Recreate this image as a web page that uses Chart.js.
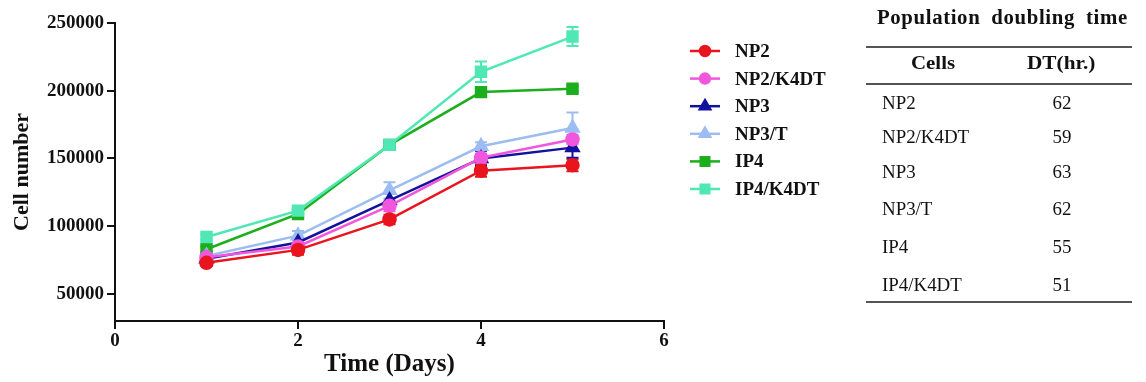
<!DOCTYPE html>
<html>
<head>
<meta charset="utf-8">
<script src="https://cdn.jsdelivr.net/npm/chart.js@4.4.1/dist/chart.umd.min.js"></script>
<style>
  html, body { margin: 0; padding: 0; background: #fff; }
  #wrap { position: relative; width: 1146px; height: 382px; overflow: hidden; }
  canvas { position: absolute; left: 0; top: 0; }
  .t { position: absolute; font-family: 'Liberation Serif', 'Times New Roman', serif; color: #111; white-space: nowrap; transform-origin: left center; }
  .rule { position: absolute; left: 866px; width: 266px; height: 1.5px; background: #555; }
</style>
</head>
<body>
<div id="wrap">
  <canvas id="c" width="1146" height="382"></canvas>
  <div id="table"></div>
</div>
<script>
// ---- data ----
const days = [1, 2, 3, 4, 5];
const seriesNames = ['NP2', 'NP2/K4DT', 'NP3', 'NP3/T', 'IP4', 'IP4/K4DT'];
const np2      = [73000, 82500, 105000, 141000, 145000];
const np2k4dt  = [77000, 85000, 115000, 150500, 164000];
const np3      = [76000, 88000, 119000, 150000, 158000];
const np3t     = [78000, 93000, 126500, 159000, 172500];
const ip4      = [83000, 109000, 160000, 199000, 201500];
const ip4k4dt  = [92000, 111500, 160000, 214000, 240000];
const errNp2     = [2000, 3500, 3500, 4500, 4500];
const errNp2k4dt = [2000, 2500, 4000, 3000, 3500];
const errNp3     = [2000, 3000, 5000, 5500, 7500];
const errNp3t    = [2000, 3500, 6000, 3000, 11500];
const errIp4     = [2000, 2000, 2000, 2500, 2000];
const errIp4k4dt = [2000, 2000, 2000, 7500, 7000];
const yTicks = [50000, 100000, 150000, 200000, 250000];
const xTicks = [0, 2, 4, 6];
const tableTitle = 'Population doubling time';
const tableHead = ['Cells', 'DT(hr.)'];
const tableCells = ['NP2', 'NP2/K4DT', 'NP3', 'NP3/T', 'IP4', 'IP4/K4DT'];
const tableDT = [62, 59, 63, 62, 55, 51];

const values = [np2, np2k4dt, np3, np3t, ip4, ip4k4dt];
const errors = [errNp2, errNp2k4dt, errNp3, errNp3t, errIp4, errIp4k4dt];
const colors = ['#e8141e', '#f057dc', '#12129e', '#9dbdf2', '#1cae1c', '#4fe8b4'];
const styles = ['circle', 'circle', 'triangle', 'triangle', 'rect', 'rect'];
const radii  = [6, 6, 7, 7, 7, 7];
const orders = [1, 2, 3, 4, 6, 5];

const FONT = "'Liberation Serif', 'Times New Roman', serif";

const datasets = seriesNames.map((name, i) => ({
  label: name,
  data: days.map((d, j) => ({ x: d, y: values[i][j] })),
  errors: errors[i],
  borderColor: colors[i],
  backgroundColor: colors[i],
  pointBackgroundColor: colors[i],
  pointBorderColor: colors[i],
  pointStyle: styles[i],
  pointRadius: radii[i],
  borderWidth: 2.5,
  tension: 0,
  order: orders[i]
}));

const errorBars = {
  id: 'errorBars',
  beforeDatasetsDraw(chart) {
    const ctx = chart.ctx;
    const ys = chart.scales.y, xs = chart.scales.x;
    chart.data.datasets.forEach((ds) => {
      ctx.save();
      ctx.strokeStyle = ds.borderColor;
      ctx.lineWidth = 2;
      ds.data.forEach((p, j) => {
        const e = ds.errors[j];
        const x = xs.getPixelForValue(p.x);
        const y1 = ys.getPixelForValue(p.y + e);
        const y2 = ys.getPixelForValue(p.y - e);
        ctx.beginPath();
        ctx.moveTo(x, y1); ctx.lineTo(x, y2);
        ctx.moveTo(x - 6, y1); ctx.lineTo(x + 6, y1);
        ctx.moveTo(x - 6, y2); ctx.lineTo(x + 6, y2);
        ctx.stroke();
      });
      ctx.restore();
    });
  }
};

const customLegend = {
  id: 'customLegend',
  afterDraw(chart) {
    const ctx = chart.ctx;
    chart.data.datasets.forEach((ds, i) => {
      const y = 51 + i * 27.6;
      ctx.save();
      ctx.strokeStyle = ds.borderColor;
      ctx.lineWidth = 2.5;
      ctx.beginPath();
      ctx.moveTo(690, y); ctx.lineTo(720, y);
      ctx.stroke();
      ctx.fillStyle = ds.borderColor;
      ctx.strokeStyle = ds.borderColor;
      Chart.helpers.drawPoint(ctx, {
        pointStyle: ds.pointStyle, radius: ds.pointRadius - 1, borderWidth: 1
      }, 705, y);
      ctx.fillStyle = '#111';
      ctx.font = "bold 19px " + FONT;
      ctx.textBaseline = 'middle';
      ctx.textAlign = 'left';
      ctx.fillText(ds.label, 735, y + 1);
      ctx.restore();
    });
  }
};

const bg = {
  id: 'bg',
  beforeDraw(chart) {
    const ctx = chart.ctx;
    ctx.save();
    ctx.fillStyle = '#fff';
    ctx.fillRect(0, 0, chart.width, chart.height);
    ctx.restore();
  }
};

new Chart(document.getElementById('c'), {
  type: 'line',
  data: { datasets },
  plugins: [bg, errorBars, customLegend],
  options: {
    responsive: false,
    animation: false,
    events: [],
    layout: { padding: { left: 0, right: 482, top: 23, bottom: 0 } },
    plugins: { legend: { display: false }, tooltip: { enabled: false } },
    scales: {
      x: {
        type: 'linear', min: 0, max: 6,
        afterBuildTicks: (s) => { s.ticks = xTicks.map(v => ({ value: v })); },
        afterFit: (s) => { s.height = 61; },
        grid: { display: true, drawOnChartArea: false, drawTicks: true, tickLength: 8, color: '#111', lineWidth: 2 },
        border: { display: true, color: '#111', width: 2 },
        ticks: { color: '#111', font: { family: FONT, size: 19, weight: 'bold' }, padding: 1 },
        title: { display: true, text: 'Time (Days)', color: '#111', font: { family: FONT, size: 25, weight: 'bold' }, padding: { top: 0, bottom: 2 } }
      },
      y: {
        type: 'linear', min: 30000, max: 250000,
        afterBuildTicks: (s) => { s.ticks = yTicks.map(v => ({ value: v })); },
        afterFit: (s) => { s.width = 115; },
        grid: { display: true, drawOnChartArea: false, drawTicks: true, tickLength: 8, color: '#111', lineWidth: 2 },
        border: { display: true, color: '#111', width: 2 },
        ticks: { color: '#111', font: { family: FONT, size: 19, weight: 'bold' }, padding: 3, callback: (v) => String(v) },
        title: { display: true, text: 'Cell number', color: '#111', font: { family: FONT, size: 22, weight: 'bold' }, padding: { top: 9, bottom: 0 } }
      }
    }
  }
});

// ---- table ----
(function buildTable() {
  const t = document.getElementById('table');
  const add = (html) => t.insertAdjacentHTML('beforeend', html);
  add(`<div class="t" style="left:877px;top:6px;font-size:20px;font-weight:bold;letter-spacing:0.6px;word-spacing:5px;transform:scaleX(1.04);">${tableTitle}</div>`);
  add(`<div class="rule" style="top:46px;"></div>`);
  add(`<div class="t" style="left:911px;top:52px;font-size:19px;font-weight:bold;transform:scaleX(1.1);">${tableHead[0]}</div>`);
  add(`<div class="t" style="left:1027px;top:52px;font-size:19px;font-weight:bold;transform:scaleX(1.12);">${tableHead[1]}</div>`);
  add(`<div class="rule" style="top:83px;"></div>`);
  const rowY = [93, 127, 162, 199, 237, 275];
  tableCells.forEach((c, i) => {
    add(`<div class="t" style="left:882px;top:${rowY[i]}px;font-size:18px;transform:scaleX(1.05);">${c}</div>`);
    add(`<div class="t" style="left:1040px;width:44px;text-align:center;top:${rowY[i]}px;font-size:18px;transform-origin:center;transform:scaleX(1.05);">${tableDT[i]}</div>`);
  });
  add(`<div class="rule" style="top:301px;"></div>`);
})();
</script>
</body>
</html>
